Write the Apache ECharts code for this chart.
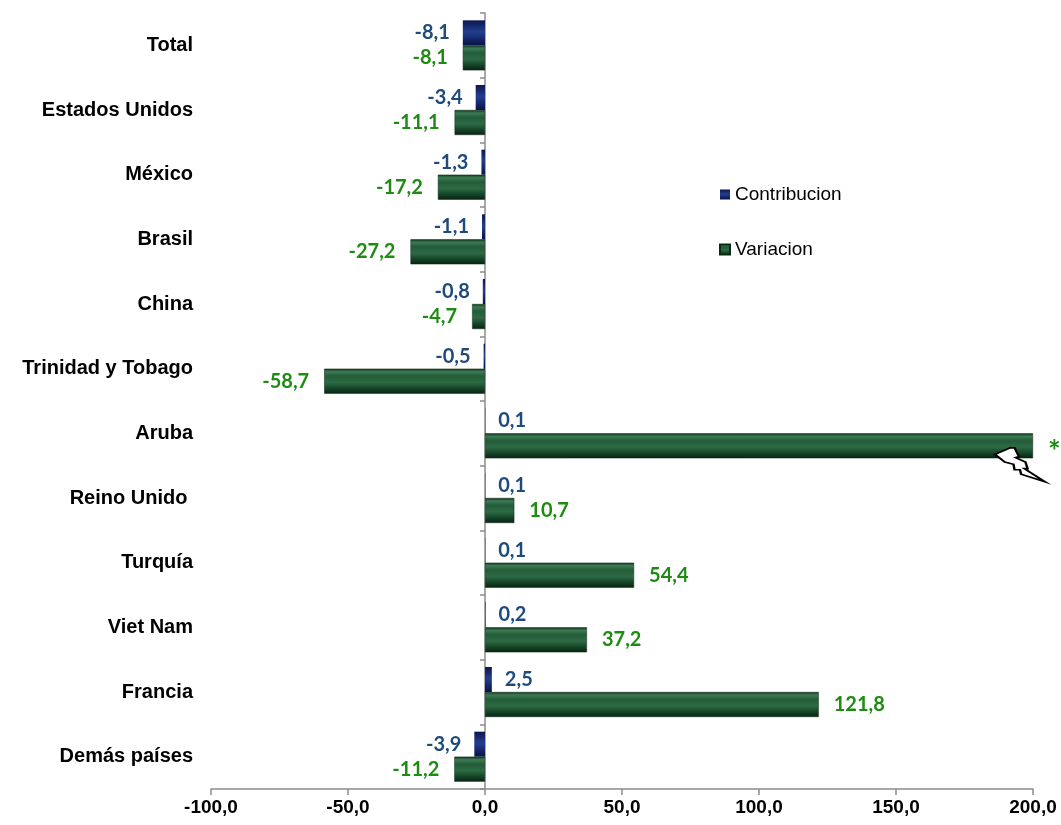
<!DOCTYPE html>
<html>
<head>
<meta charset="utf-8">
<script src="https://cdn.jsdelivr.net/npm/echarts@6/dist/echarts.min.js"></script>
<style>
  html, body { margin: 0; padding: 0; background: #fff; }
  #chart { width: 1061px; height: 825px; }
</style>
</head>
<body>
<div id="chart"></div>
<script>
// datos
const paises = ["Total", "Estados Unidos", "México", "Brasil", "China", "Trinidad y Tobago",
  "Aruba", "Reino Unido ", "Turquía", "Viet Nam", "Francia", "Demás países"];
const contribucion = [-8.1, -3.4, -1.3, -1.1, -0.8, -0.5, 0.1, 0.1, 0.1, 0.2, 2.5, -3.9];
// Aruba sale de la escala: se dibuja hasta el tope (200) y se marca con *
const variacion = [-8.1, -11.1, -17.2, -27.2, -4.7, -58.7, 200, 10.7, 54.4, 37.2, 121.8, -11.2];
const fueraDeEscala = ["Aruba"];
const ejeX = { min: -100, max: 200, interval: 50 };

const fmt = v => v.toFixed(1).replace(".", ",");

const azul = {
  type: "linear", x: 0, y: 0, x2: 0, y2: 1,
  colorStops: [
    { offset: 0, color: "#0a1650" },
    { offset: 0.45, color: "#243e8c" },
    { offset: 0.6, color: "#1d3380" },
    { offset: 1, color: "#081245" }
  ]
};
const verde = {
  type: "linear", x: 0, y: 0, x2: 0, y2: 1,
  colorStops: [
    { offset: 0, color: "#0e331c" },
    { offset: 0.12, color: "#3d7a53" },
    { offset: 0.3, color: "#225c38" },
    { offset: 0.55, color: "#2d6b44" },
    { offset: 0.8, color: "#154226" },
    { offset: 1, color: "#082311" }
  ]
};

// rayo que indica el corte de la barra
const rayo = "path://M4,16 L32,4 L40,4 L48,20 L42,22 L60,30 L64,42 L58,42 L96,66 L52,52 L50,44 L40,44 L38,34 L22,30 Z";

const chart = echarts.init(document.getElementById("chart"), null, { renderer: "canvas" });

chart.setOption({
  animation: false,
  grid: { left: 211, right: 28, top: 13, bottom: 36, containLabel: false, outerBoundsMode: "none" },
  legend: {
    orient: "vertical",
    left: 714,
    top: 180,
    itemGap: 36,
    itemWidth: 10,
    itemHeight: 10,
    icon: "rect",
    textStyle: { fontFamily: "Liberation Sans", fontSize: 19, color: "#000" },
    data: ["Contribucion", "Variacion"]
  },
  xAxis: {
    type: "value",
    min: ejeX.min,
    max: ejeX.max,
    interval: ejeX.interval,
    splitLine: { show: false },
    axisLine: { show: true, lineStyle: { color: "#8c8c8c", width: 1.5 } },
    axisTick: { show: true, length: 6, lineStyle: { color: "#8c8c8c", width: 1.5 } },
    axisLabel: {
      formatter: v => fmt(v),
      fontFamily: "Liberation Sans",
      fontWeight: "bold",
      fontSize: 19,
      color: "#000",
      margin: 9
    }
  },
  yAxis: [
    {
      // nombres de los paises a la izquierda
      type: "category",
      inverse: true,
      position: "left",
      data: paises,
      axisLine: { show: false, onZero: false },
      axisTick: { show: false },
      axisLabel: {
        margin: 18,
        fontFamily: "Liberation Sans",
        fontWeight: "bold",
        fontSize: 20,
        color: "#000"
      }
    },
    {
      // linea del cero con sus marcas
      type: "category",
      inverse: true,
      position: "left",
      data: paises,
      axisLine: { show: true, onZero: true, lineStyle: { color: "#8c8c8c", width: 1.5 } },
      axisTick: { show: true, length: 5, lineStyle: { color: "#8c8c8c", width: 1.5 } },
      axisLabel: { show: false }
    }
  ],
  series: [
    {
      name: "Contribucion",
      type: "bar",
      data: contribucion.map(v => ({
        value: v,
        label: { position: v < 0 ? "left" : "right" }
      })),
      barWidth: 25,
      barGap: "0%",
      itemStyle: { color: azul },
      label: {
        show: true,
        distance: 13,
        formatter: p => fmt(p.value),
        fontFamily: "Lato",
        fontWeight: "bold",
        fontSize: 20,
        color: "#1f4a7c"
      }
    },
    {
      name: "Variacion",
      type: "bar",
      data: variacion.map(v => ({
        value: v,
        label: { position: v < 0 ? "left" : "right" }
      })),
      barWidth: 25,
      barGap: "0%",
      itemStyle: { color: verde, borderColor: "#0b2a15", borderWidth: 0.5 },
      label: {
        show: true,
        distance: 15,
        formatter: p => fueraDeEscala.includes(p.name) ? "{ast|*}" : fmt(p.value),
        fontFamily: "Lato",
        fontWeight: "bold",
        fontSize: 20,
        color: "#1e8c12",
        rich: { ast: { fontFamily: "Lato", fontWeight: "bold", fontSize: 30, color: "#1e8c12", padding: [12, 0, 0, 0] } }
      },
      markPoint: {
        silent: true,
        symbol: rayo,
        symbolSize: [50, 34],
        symbolOffset: [-13, 19],
        itemStyle: { color: "#fff", borderColor: "#000", borderWidth: 2 },
        label: { show: false },
        data: fueraDeEscala.map(n => ({ coord: [ejeX.max, n] }))
      }
    }
  ]
});
</script>
</body>
</html>
